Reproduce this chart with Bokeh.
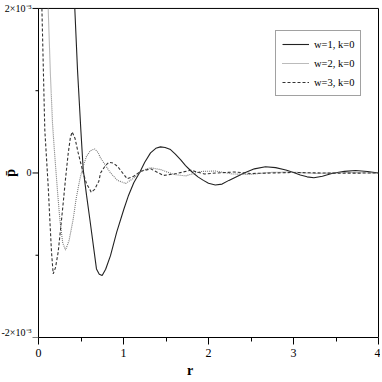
from math import pi
from bokeh.plotting import figure
from bokeh.models import FixedTicker, Legend, LegendItem, Range1d
from bokeh.core.properties import value
from bokeh.embed import file_html
from bokeh.resources import INLINE

# ---- data (pressure in units of 1e-3) ----
r_w1 = [0.427, 0.459, 0.498, 0.526, 0.565, 0.604, 0.645, 0.682, 0.715, 0.749, 0.79, 0.847, 0.92,
        1.004, 1.06, 1.121, 1.192, 1.25, 1.318, 1.38, 1.435, 1.49, 1.553, 1.61, 1.671, 1.73, 1.788,
        1.82, 1.88, 1.94, 2.0, 2.08, 2.16, 2.24, 2.33, 2.42, 2.54, 2.67, 2.79, 2.91, 3.0, 3.08,
        3.16, 3.24, 3.34, 3.45, 3.6, 3.73, 3.87, 4.0]
p_w1 = [2.0, 1.25, 0.526, 0.042, -0.27, -0.562, -0.88, -1.166, -1.23, -1.247, -1.17, -1.005, -0.72,
        -0.441, -0.27, -0.118, 0.01, 0.13, 0.244, 0.3, 0.317, 0.31, 0.284, 0.23, 0.163, 0.09, 0.03,
        0.0, -0.05, -0.09, -0.125, -0.147, -0.135, -0.09, -0.045, 0.0, 0.05, 0.075, 0.065, 0.036, 0.005,
        -0.024, -0.047, -0.058, -0.04, -0.006, 0.02, 0.03, 0.018, 0.0]

r_w2 = [0.114, 0.14, 0.165, 0.185, 0.204, 0.228, 0.251, 0.285, 0.318, 0.36, 0.408, 0.445,
        0.486, 0.525, 0.565, 0.61, 0.659, 0.70, 0.729, 0.79, 0.847, 0.93, 1.024, 1.11, 1.2,
        1.26, 1.318, 1.435, 1.592, 1.73, 1.906, 2.08, 2.28, 2.49, 2.71, 2.96, 3.26, 3.61, 4.0]
p_w2 = [2.0, 1.2, 0.6, 0.3, 0.04, -0.28, -0.562, -0.85, -0.937, -0.82, -0.562, -0.3,
        -0.079, 0.08, 0.203, 0.27, 0.292, 0.25, 0.184, 0.09, 0.0, -0.09, -0.127, -0.07, 0.01,
        0.045, 0.063, 0.042, -0.018, -0.036, 0.018, 0.024, -0.012, -0.018, 0.006, 0.012, -0.006, 0.006, 0.0]

r_w3 = [0.04, 0.074, 0.114, 0.135, 0.153, 0.173, 0.2, 0.231, 0.26, 0.291, 0.32, 0.35, 0.375,
        0.396, 0.43, 0.467, 0.526, 0.565, 0.604, 0.62, 0.66, 0.71, 0.73, 0.78, 0.827, 0.88, 0.93,
        0.99, 1.043, 1.12, 1.2, 1.32, 1.47, 1.63, 1.79, 1.95, 2.1, 2.3, 2.5, 2.75, 3.0, 3.5, 4.0]
p_w3 = [2.0, 0.526, -0.16, -0.6, -0.962, -1.227, -1.15, -0.966, -0.68, -0.36, -0.05, 0.243, 0.43,
        0.5, 0.42, 0.243, 0.0, -0.13, -0.2, -0.235, -0.2, -0.1, 0.0, 0.08, 0.13, 0.12, 0.08,
        0.0, -0.07, -0.04, 0.02, 0.05, -0.03, -0.006, 0.034, -0.012, 0.0, 0.012, -0.006, 0.0, 0.006, -0.003, 0.0]

series_labels = ["w=1, k=0", "w=2, k=0", "w=3, k=0"]

x_ticks = [0, 1, 2, 3, 4]
x_minor = [0.5, 1.5, 2.5, 3.5]
y_ticks = [-2, 0, 2]
y_minor = [-1, 1]
y_tick_labels = ["-2×10⁻³", "0", "2×10⁻³"]
y_title = "p̄"

FONT = "Liberation Serif"

# ---- layout geometry (pixels) ----
W, H = 380, 380
LEFT_PX = 38            # where x = 0 sits
PX_PER_X = 85.0
BOTTOM_BORDER = 41
TOP_PX = 8              # where y = 2 sits
FRAME_W = W - 1
FRAME_H = H - BOTTOM_BORDER
PX_PER_Y = (FRAME_H - TOP_PX) / (y_ticks[-1] - y_ticks[0])

x_start = x_ticks[0] - LEFT_PX / PX_PER_X
x_end = x_start + FRAME_W / PX_PER_X
y_start = y_ticks[0]
y_end = y_ticks[-1] + TOP_PX / PX_PER_Y

p = figure(width=W, height=H, output_backend="svg", toolbar_location=None,
           x_range=Range1d(x_start, x_end), y_range=Range1d(y_start, y_end),
           y_axis_location=None,
           min_border_left=0, min_border_right=1, min_border_top=0, min_border_bottom=BOTTOM_BORDER)
p.grid.visible = False
p.background_fill_color = "white"
p.border_fill_color = "white"
p.outline_line_color = None

# ---- x axis (real axis, limited to the data extent) ----
xa = p.xaxis[0]
xa.bounds = (x_ticks[0], x_ticks[-1])
xa.ticker = FixedTicker(ticks=x_ticks, minor_ticks=x_minor)
xa.major_tick_in = 0
xa.major_tick_out = 7
xa.minor_tick_in = 0
xa.minor_tick_out = 4
xa.axis_line_color = "black"
xa.major_tick_line_color = "black"
xa.minor_tick_line_color = "black"
xa.major_label_text_font = FONT
xa.major_label_text_font_size = "12px"
xa.major_label_text_color = "black"
xa.major_label_standoff = 4
xa.axis_label = "r"
xa.axis_label_text_font = FONT
xa.axis_label_text_font_style = "bold"
xa.axis_label_text_font_size = "14px"
xa.axis_label_text_color = "black"
xa.axis_label_standoff = 3

# ---- frame box: left axis line, top and right edges ----
x0, x4 = x_ticks[0], x_ticks[-1]
ylo, yhi = y_ticks[0], y_ticks[-1]
p.line([x0, x0], [ylo, yhi], line_color="black", line_width=1)
p.line([x0, x4], [yhi, yhi], line_color="black", line_width=1)
p.line([x4, x4], [ylo, yhi], line_color="black", line_width=1)

# ---- y ticks (outward) ----
maj_len = 6 / PX_PER_X
min_len = 3 / PX_PER_X
p.segment(x0=[x0 - maj_len] * len(y_ticks), y0=y_ticks, x1=[x0] * len(y_ticks), y1=y_ticks,
          line_color="black", line_width=1)
p.segment(x0=[x0 - min_len] * len(y_minor), y0=y_minor, x1=[x0] * len(y_minor), y1=y_minor,
          line_color="black", line_width=1)

# ---- y tick labels ----
lab_x = x0 - 7 / PX_PER_X
p.text(x=[lab_x] * (len(y_ticks) - 1), y=y_ticks[1:], text=y_tick_labels[1:],
       text_align="right", text_baseline="middle", text_font=value(FONT),
       text_font_size="10px", text_color="black")
p.text(x=[lab_x], y=y_ticks[:1], text=y_tick_labels[:1],
       text_align="right", text_baseline="bottom", text_font=value(FONT),
       text_font_size="10px", text_color="black")

# ---- y axis title ----
p.text(x=[x0 - (LEFT_PX - 10) / PX_PER_X], y=[0], text=[y_title], angle=pi / 2,
       text_align="center", text_baseline="middle", text_font=value(FONT),
       text_font_style="bold", text_font_size="14px", text_color="black")

# ---- curves ----
l1 = p.line(r_w1, p_w1, line_color="#222222", line_width=1.1)
l2 = p.line(r_w2, p_w2, line_color="#777777", line_width=1.1, line_dash="1 1")
l3 = p.line(r_w3, p_w3, line_color="#333333", line_width=1.1, line_dash="3 2")

legend = Legend(items=[LegendItem(label=series_labels[0], renderers=[l1]),
                       LegendItem(label=series_labels[1], renderers=[l2]),
                       LegendItem(label=series_labels[2], renderers=[l3])],
                location=(275, 241))
legend.label_text_font = FONT
legend.label_text_font_size = "10.5px"
legend.label_text_color = "black"
legend.glyph_width = 27
legend.glyph_height = 14
legend.label_height = 14
legend.label_standoff = 5
legend.spacing = 5
legend.padding = 6
legend.margin = 0
legend.border_line_color = "#444444"
legend.border_line_width = 1
legend.background_fill_color = "white"
p.add_layout(legend)

open("out.html", "w").write(file_html(p, INLINE))
